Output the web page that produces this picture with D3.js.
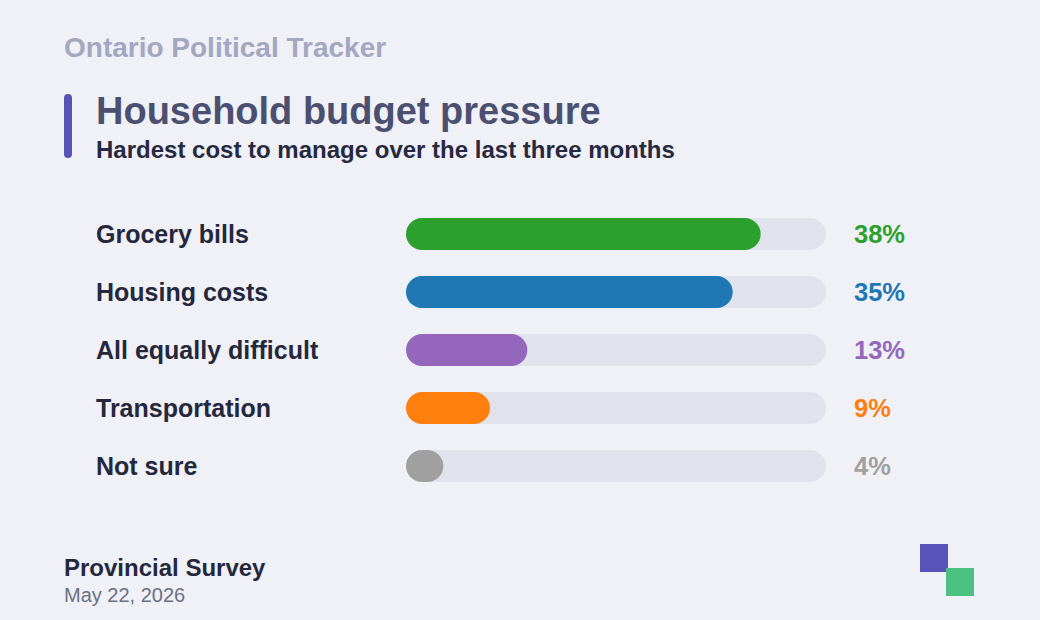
<!DOCTYPE html>
<html><head><meta charset="utf-8">
<script src="https://cdn.jsdelivr.net/npm/d3@7"></script>
<style>body{margin:0;background:#f0f1f7;font-family:"Liberation Sans",Arial,sans-serif}</style>
</head><body>
<svg id="c" width="1040" height="620"></svg>
<script>
const categories=["Grocery bills","Housing costs","All equally difficult","Transportation","Not sure"];
const values=[38,35,13,9,4];
const colors=["#2ca02c","#1f77b4","#9467bd","#ff7f0e","#a0a0a0"];
const svg=d3.select("#c");
svg.append("rect").attr("width",1040).attr("height",620).attr("fill","#f0f1f7");
svg.append("text").attr("x",64).attr("y",57).text("Ontario Political Tracker").attr("fill","#a3a7bf").attr("font-size",28).attr("font-weight",700);
svg.append("rect").attr("x",64).attr("y",94).attr("width",8).attr("height",64).attr("rx",4).attr("fill","#5753b8");
svg.append("text").attr("x",96).attr("y",124).text("Household budget pressure").attr("fill","#4b5070").attr("font-size",38).attr("font-weight",700);
svg.append("text").attr("x",96).attr("y",158).text("Hardest cost to manage over the last three months").attr("fill","#26293f").attr("font-size",24).attr("font-weight",700);
const x=d3.scaleLinear().domain([0,45]).range([406,826]);
const y=d3.scaleBand().domain(categories).range([205,495]).paddingInner(0.45).paddingOuter(0.225);
const g=svg.selectAll("g.row").data(categories).join("g");
const bh=32;
g.append("rect").attr("x",x(0)).attr("y",d=>y(d)+y.bandwidth()/2-bh/2).attr("width",x(45)-x(0)).attr("height",bh).attr("rx",16).attr("fill","#e1e3ec");
g.append("rect").attr("x",x(0)).attr("y",d=>y(d)+y.bandwidth()/2-bh/2).attr("width",(d,i)=>x(values[i])-x(0)).attr("height",bh).attr("rx",16).attr("fill",(d,i)=>colors[i]);
g.append("text").attr("x",96).attr("y",d=>y(d)+y.bandwidth()/2).attr("dy","0.35em").text(d=>d).attr("fill","#25283d").attr("font-size",25).attr("font-weight",700);
g.append("text").attr("x",854).attr("y",d=>y(d)+y.bandwidth()/2).attr("dy","0.35em").text((d,i)=>values[i]+"%").attr("fill",(d,i)=>colors[i]).attr("font-size",25.5).attr("font-weight",700);
svg.append("text").attr("x",64).attr("y",576).text("Provincial Survey").attr("fill","#25283d").attr("font-size",24).attr("font-weight",700);
svg.append("text").attr("x",64).attr("y",602).text("May 22, 2026").attr("fill","#6b6f85").attr("font-size",20);
svg.append("rect").attr("x",920).attr("y",544).attr("width",28).attr("height",28).attr("fill","#5753b8");
svg.append("rect").attr("x",946).attr("y",568).attr("width",28).attr("height",28).attr("fill","#4cc182");
</script></body></html>
